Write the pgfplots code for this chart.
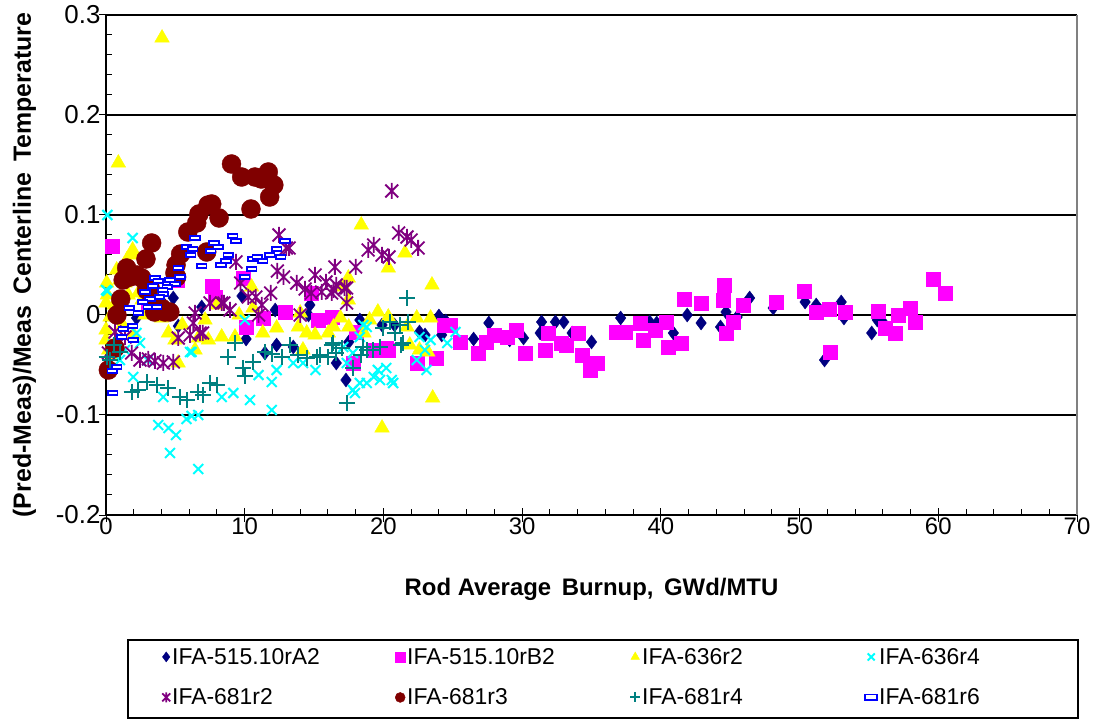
\documentclass[border=0pt]{standalone}
\usepackage{fontspec}
\setmainfont{Liberation Sans}
\usepackage{pgfplots}
\pgfplotsset{compat=1.18}

\definecolor{cNavy}{HTML}{000080}
\definecolor{cMag}{HTML}{FF00FF}
\definecolor{cYel}{HTML}{FFFF00}
\definecolor{cCyan}{HTML}{00FFFF}
\definecolor{cPurp}{HTML}{800080}
\definecolor{cMaroon}{HTML}{800000}
\definecolor{cTeal}{HTML}{008080}
\definecolor{cBlue}{HTML}{0000FF}

% excel style star: X plus vertical bar
\pgfdeclareplotmark{xstar}{%
  \pgfpathmoveto{\pgfqpoint{0pt}{\pgfplotmarksize}}%
  \pgfpathlineto{\pgfqpoint{0pt}{-\pgfplotmarksize}}%
  \pgfpathmoveto{\pgfqpoint{-.8\pgfplotmarksize}{-.8\pgfplotmarksize}}%
  \pgfpathlineto{\pgfqpoint{.8\pgfplotmarksize}{.8\pgfplotmarksize}}%
  \pgfpathmoveto{\pgfqpoint{-.8\pgfplotmarksize}{.8\pgfplotmarksize}}%
  \pgfpathlineto{\pgfqpoint{.8\pgfplotmarksize}{-.8\pgfplotmarksize}}%
  \pgfusepathqstroke}
% small dash box
\pgfdeclareplotmark{dashbox}{%
  \pgfpathrectangle{\pgfqpoint{-1.2\pgfplotmarksize}{-.55\pgfplotmarksize}}{\pgfqpoint{2.4\pgfplotmarksize}{1.1\pgfplotmarksize}}%
  \pgfusepathqfillstroke}

\begin{document}
\begin{tikzpicture}
\path[use as bounding box] (0,0) rectangle (1094bp,719bp);
\begin{axis}[
  at={(106bp,204bp)}, anchor=south west,
  scale only axis, width=971bp, height=500bp,
  xmin=0, xmax=70, ymin=-0.2, ymax=0.3,
  xtick={0,10,...,70}, ytick={-0.2,-0.1,0,0.1,0.2,0.3},
  minor x tick num=4, minor y tick num=4,
  axis x line*=bottom, axis y line*=left,
  axis line style={line width=1.2bp, -},
  tick align=inside, major tick length=7bp, minor tick length=6bp,
  tick style={black, line width=1bp},
  extra x ticks={0,10,...,70}, extra x tick labels={},
  extra y ticks={-0.2,-0.1,0,0.1,0.2,0.3}, extra y tick labels={},
  extra tick style={tick align=outside, major tick length=7bp, grid=none},
  ymajorgrids, grid style={black, line width=1.4bp},
  /pgf/number format/assume math mode=true,
  yticklabel style={font=\fontsize{26}{30}\selectfont, xshift=-2bp},
  xticklabel style={font=\fontsize{24}{28}\selectfont, yshift=1bp},
  xlabel={\textbf{Rod Average\, Burnup,\, GWd/MTU}},
  ylabel={\textbf{(Pred-Meas)/Meas\, Centerline\, Temperature}},
  xlabel style={font=\fontsize{24}{28}\selectfont, yshift=-30bp},
  ylabel style={font=\fontsize{25}{29}\selectfont, yshift=6bp},
  clip=false,
  legend columns=4,
  legend style={at={(0.0577,-0.262)}, anchor=north west,
    draw=none, fill=none, inner xsep=0bp, inner ysep=0bp,
    font=\fontsize{23}{27}\selectfont,
    nodes={text width=221bp, align=left, inner sep=2bp},
    row sep=19bp},
  legend cell align=left,
  legend image code/.code={%
    \draw[mark repeat=2,mark phase=2,mark size=5bp] plot coordinates {(0bp,0bp) (6bp,0bp) (12bp,0bp)};},
]
\draw[black, line width=1.2bp] (rel axis cs:0.02266,-0.25) rectangle (rel axis cs:1.001,-0.406);
\addplot[only marks, mark=diamond*, mark size=7bp, draw=cNavy, fill=cNavy] coordinates {
(2.2,-0.003)(4.85,0.017)(5.21,-0.011)(6.9,0.008)(9.8,0.019)(10.1,-0.024)(11.46,-0.038)(12.3,-0.030)
(13.5,-0.032)(12.2,0.005)(14.6,0.000)(14.7,0.010)(16.6,-0.048)(17.3,-0.065)(17.5,-0.027)(19.9,-0.010)
(18.3,-0.005)(20.8,-0.010)(23.0,-0.020)
(22.6,-0.017)(24.0,-0.001)(24.2,-0.020)(24.5,-0.006)(26.5,-0.024)(27.6,-0.008)(29.1,-0.025)(30.1,-0.023)
(31.3,-0.018)(31.4,-0.007)(32.4,-0.007)(33.0,-0.007)(33.6,-0.018)(35.0,-0.027)(37.1,-0.003)(39.2,-0.007)
(39.7,-0.008)(40.9,-0.018)(41.9,0.000)(42.9,-0.008)(44.3,-0.012)(44.7,0.003)(45.5,-0.002)(46.4,0.017)
(48.1,0.007)(50.4,0.013)(51.2,0.010)(53.0,0.013)(53.2,-0.003)(51.8,-0.045)(55.2,-0.018)(55.6,-0.005)(56.0,-0.007)
};
\addlegendentry{IFA-515.10rA2}
\addplot[only marks, mark=square*, mark size=7bp, draw=cMag, fill=cMag] coordinates {
(0.43,0.069)(3.05,0.005)(5.1,0.035)(7.62,0.029)(7.86,0.018)(9.9,0.037)(10.1,-0.012)(11.34,-0.003)
(12.9,0.003)(14.8,0.022)(15.3,-0.005)(16.3,-0.002)(18.07,-0.017)(19.27,-0.035)(20.35,-0.035)(20.2,-0.033)
(17.8,-0.048)(22.4,-0.048)(23.8,-0.043)(24.4,-0.010)(24.8,-0.010)(25.5,-0.027)(26.8,-0.038)(27.4,-0.027)
(28.0,-0.020)(28.9,-0.022)(29.6,-0.015)(30.2,-0.038)(31.65,-0.035)(31.9,-0.018)(32.85,-0.028)(33.2,-0.030)
(34.05,-0.018)(34.3,-0.040)(34.9,-0.055)(35.4,-0.048)(36.8,-0.017)(37.4,-0.017)(38.5,-0.008)(38.7,-0.025)
(39.6,-0.015)(40.4,-0.007)(40.5,-0.032)(41.5,-0.028)(41.7,0.016)(42.9,0.012)(44.6,0.030)(44.5,0.015)
(45.2,-0.007)(44.7,-0.018)(45.9,0.010)(48.3,0.013)(50.3,0.024)(51.2,0.003)(52.1,0.006)(53.3,0.003)
(52.2,-0.037)(55.7,0.004)(56.2,-0.013)(56.9,-0.018)(57.1,0.000)(58.0,0.007)(58.3,-0.007)(59.6,0.036)(60.5,0.022)
};
\addlegendentry{IFA-515.10rB2}
\addplot[only marks, mark=triangle*, mark size=8.5bp, draw=cYel, fill=cYel] coordinates {
(0.05,0.032)(0.0,0.012)(0.29,-0.002)(0.0,-0.015)(0.0,-0.025)(0.1,0.02)(0.2,-0.035)(0.5,-0.04)
(0.77,0.045)(0.89,0.152)(1.0,0.035)(1.37,0.032)(1.3,0.05)(1.5,0.055)(1.92,0.065)(1.97,0.060)
(2.33,0.022)(1.6,0.02)(2.6,0.015)(2.8,0.0)(3.17,0.03)(3.5,0.02)(3.9,0.005)(4.0,-0.003)(4.04,0.277)
(4.5,-0.018)(4.97,-0.025)(5.2,-0.048)(6.42,-0.035)(6.65,-0.023)(7.14,-0.005)(7.38,-0.025)(8.34,-0.022)
(9.3,-0.022)(10.5,0.028)(10.6,0.007)(11.3,-0.018)(12.3,-0.013)(13.87,-0.012)(14.0,0.002)(14.2,-0.035)
(14.47,-0.018)(15.07,-0.020)(16.03,-0.018)(16.4,-0.012)(16.9,-0.003)(17.1,0.028)(17.47,0.037)(17.47,0.015)
(17.5,-0.012)(18.4,0.090)(18.6,-0.018)(19.0,-0.005)(19.6,0.003)(19.9,-0.113)(20.35,0.047)(20.35,-0.002)
(21.55,0.062)(21.7,-0.012)(21.9,-0.030)(22.4,-0.003)(22.6,-0.035)(23.4,-0.003)(23.2,-0.037)(23.5,0.030)
(23.55,-0.083)(1.2,-0.01)(2.0,-0.02)(0.6,0.01)(5.5,-0.01)(8.0,0.01)(9.6,0.0)
};
\addlegendentry{IFA-636r2}
\addplot[only marks, mark=x, mark size=7bp, draw=cCyan, line width=2bp] coordinates {
(0.1,0.100)(0.1,0.024)(0.0,0.025)(1.92,0.077)(2.2,-0.018)(2.45,-0.028)(1.37,-0.035)(0.5,-0.03)
(1.0,-0.045)(1.97,-0.062)(3.77,-0.110)(4.5,-0.113)(5.05,-0.120)(4.61,-0.138)(6.65,-0.154)(5.8,-0.104)
(6.17,-0.101)(6.65,-0.100)(4.13,-0.082)(6.06,-0.037)(6.17,-0.037)(8.34,-0.082)(9.18,-0.078)(10.38,-0.085)
(11.95,-0.095)(11.95,-0.067)(11.0,-0.060)(12.3,-0.055)(13.5,-0.048)(14.2,-0.048)(15.1,-0.055)(10.0,-0.005)
(17.35,-0.048)(17.1,-0.032)(18.3,-0.068)(18.8,-0.068)(19.3,-0.062)(19.75,-0.065)(20.2,-0.053)(20.6,-0.065)
(17.95,-0.078)(18.8,-0.012)(18.3,-0.022)(18.55,-0.010)(17.8,-0.038)(19.6,-0.055)(22.6,-0.022)(23.4,-0.025)
(24.6,-0.028)(22.4,-0.045)(23.1,-0.055)(23.0,-0.035)(25.2,-0.017)(20.7,-0.068)(17.8,-0.075)(3.0,-0.045)
};
\addlegendentry{IFA-636r4}
\addplot[only marks, mark=xstar, mark size=8bp, draw=cPurp, line width=1.8bp] coordinates {
(20.6,0.124)(21.1,0.082)(21.7,0.078)(22.0,0.075)(22.5,0.067)(18.9,0.065)(19.3,0.070)(19.9,0.060)
(20.4,0.058)(12.47,0.080)(13.0,0.067)(13.2,0.067)(9.37,0.053)(12.35,0.044)(12.8,0.038)(16.5,0.048)
(18.0,0.048)(15.07,0.040)(13.75,0.032)(15.86,0.033)(16.6,0.030)(17.35,0.027)(14.35,0.026)(14.8,0.022)
(15.55,0.023)(16.27,0.022)(17.35,0.012)(11.87,0.022)(10.8,0.018)(10.26,0.018)(9.7,0.032)(11.23,0.010)
(8.5,0.012)(8.94,0.005)(7.5,0.012)(8.34,0.012)(6.97,-0.018)(6.42,0.002)(5.21,-0.023)(6.06,-0.020)
(6.78,-0.018)(6.3,-0.008)(0.65,-0.017)(1.37,-0.022)(1.85,-0.038)(2.45,-0.045)(3.05,-0.044)(3.53,-0.046)
(4.13,-0.048)(4.85,-0.047)(0.17,-0.038)(17.2,0.027)(16.4,0.025)(11.0,0.0)(14.0,0.0)
};
\addlegendentry{IFA-681r2}
\addplot[only marks, mark=*, mark size=9.5bp, draw=cMaroon, fill=cMaroon] coordinates {
(9.05,0.151)(9.78,0.138)(10.74,0.138)(11.2,0.136)(11.7,0.143)(12.1,0.130)(11.8,0.118)(10.45,0.106)
(7.62,0.111)(7.36,0.110)(6.7,0.101)(6.54,0.092)(8.15,0.097)(5.9,0.083)(7.26,0.063)(5.38,0.061)
(5.05,0.050)(4.97,0.042)(3.29,0.072)(2.88,0.056)(1.49,0.047)(1.73,0.038)(2.2,0.040)(2.57,0.037)
(1.24,0.035)(1.06,0.016)(0.79,0.000)(3.65,0.012)(4.25,0.003)(4.6,0.003)(4.0,0.007)(2.93,0.025)
(3.17,0.028)(3.5,0.003)(0.65,-0.033)(0.17,-0.055)(5.09,0.038)
};
\addlegendentry{IFA-681r3}
\addplot[only marks, mark=+, mark size=8bp, draw=cTeal, line width=2bp] coordinates {
(9.3,-0.028)(8.82,-0.042)(9.9,-0.053)(10.0,-0.061)(10.6,-0.047)(11.46,-0.037)(11.94,-0.039)(12.66,-0.042)
(13.27,-0.030)(13.87,-0.040)(14.46,-0.043)(15.2,-0.042)(15.43,-0.040)(16.27,-0.030)(16.6,-0.038)(0.29,-0.045)
(1.0,-0.037)(0.05,-0.042)(1.85,-0.077)(2.33,-0.075)(2.93,-0.067)(3.65,-0.070)(4.5,-0.073)(5.33,-0.082)
(5.82,-0.085)(6.65,-0.077)(7.0,-0.080)(7.5,-0.068)(7.98,-0.070)(21.7,0.017)(20.5,-0.007)(21.2,-0.010)
(21.8,-0.007)(20.0,-0.013)(20.8,-0.018)(21.4,-0.028)(16.4,-0.028)(17.0,-0.033)(18.55,-0.032)(19.27,-0.035)
(18.4,-0.040)(18.8,-0.035)(19.75,-0.032)(21.3,-0.030)(16.0,-0.042)(17.8,-0.053)(17.35,-0.088)(0.6,-0.03)
};
\addlegendentry{IFA-681r4}
\addplot[only marks, mark=dashbox, mark size=4bp, draw=cBlue, fill=white, line width=1.6bp] coordinates {
(9.13,0.079)(9.37,0.074)(6.42,0.077)(5.82,0.068)(6.24,0.066)(6.1,0.060)(7.79,0.072)(8.1,0.068)
(7.54,0.064)(8.82,0.060)(8.65,0.054)(8.29,0.050)(6.9,0.049)(12.9,0.074)(12.3,0.066)(12.6,0.058)
(11.8,0.060)(10.6,0.056)(10.9,0.058)(11.3,0.054)(10.5,0.046)(10.0,0.038)(5.2,0.047)(5.33,0.038)
(3.53,0.037)(3.77,0.034)(4.61,0.035)(4.97,0.031)(4.42,0.028)(4.08,0.025)(3.36,0.029)(2.81,0.023)
(4.13,0.021)(3.84,0.018)(3.17,0.016)(2.64,0.013)(3.05,0.008)(3.65,0.008)(1.68,0.007)(2.33,0.002)
(1.92,-0.011)(1.25,-0.014)(1.13,-0.022)(1.97,-0.025)(0.77,-0.052)(0.44,-0.056)(0.48,-0.078)
};
\addlegendentry{IFA-681r6}
\draw[gray, line width=1.2bp] (rel axis cs:1,0) -- (rel axis cs:1,1);
\end{axis}
\end{tikzpicture}
\end{document}
